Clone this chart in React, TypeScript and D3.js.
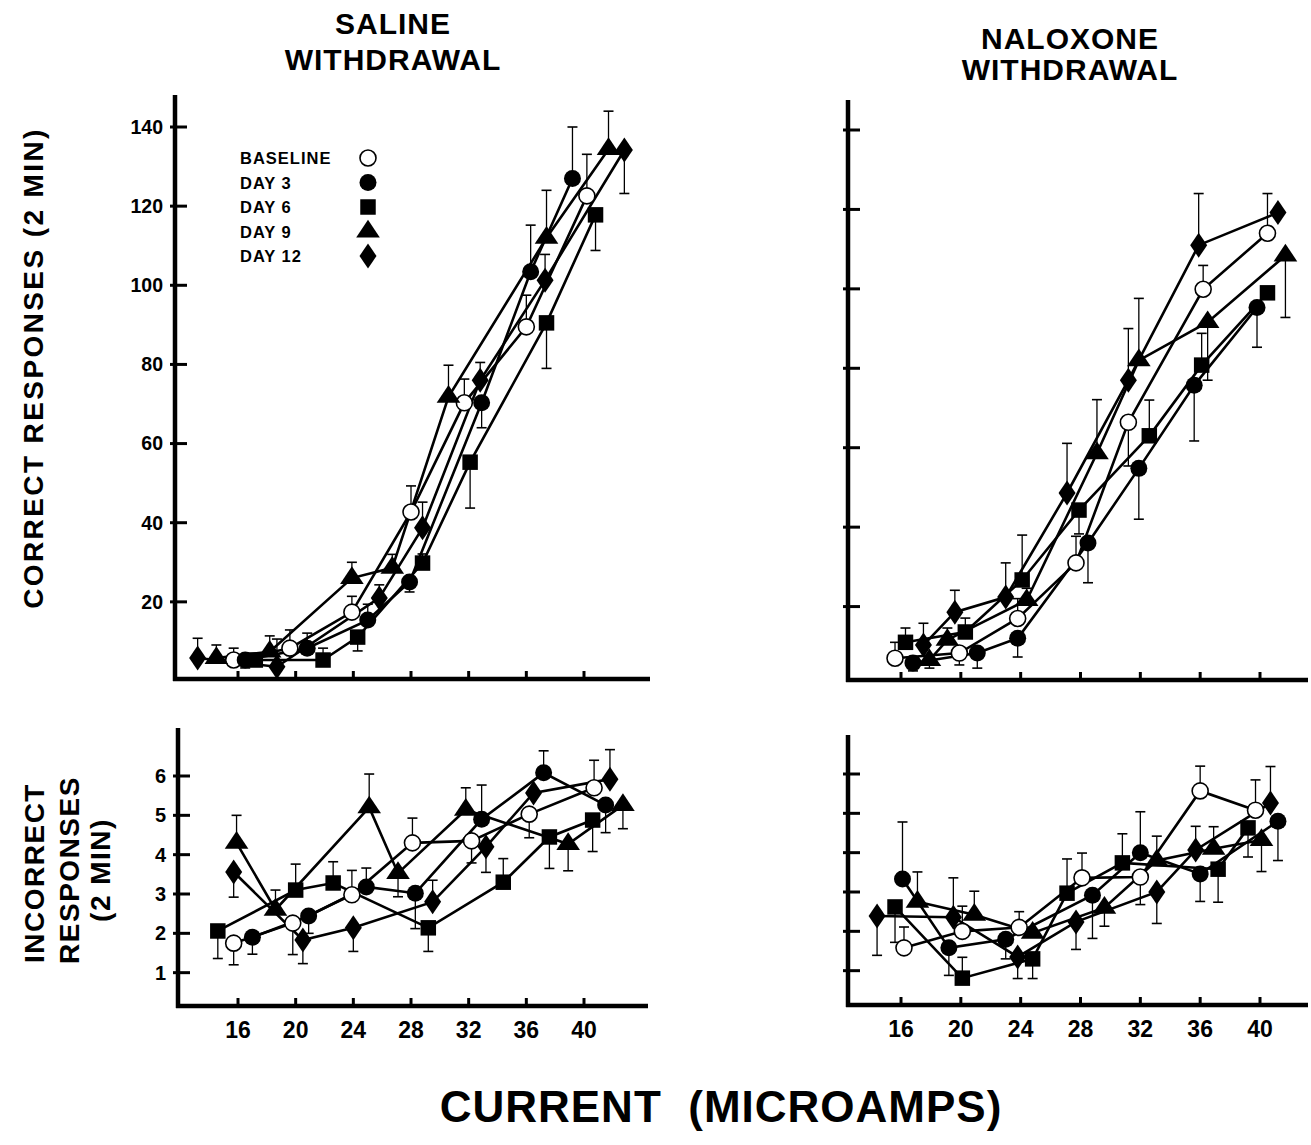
import React from "react";
import * as d3 from "d3";

// ---- Data: [current (µA), mean responses, error bar (signed: + up, - down)] ----
const SERIES_NAMES = ["BASELINE", "DAY 3", "DAY 6", "DAY 9", "DAY 12"];
const SERIES_SHAPES = ["openCircle", "circle", "square", "triangle", "diamond"];
const X_TICKS = [16, 20, 24, 28, 32, 36, 40];
const CORRECT_TICKS = [20, 40, 60, 80, 100, 120, 140];
const INCORRECT_TICKS = [1, 2, 3, 4, 5, 6];

const salineCorrect = [
  [[15.7, 5.3, 3], [19.6, 8.3, 4.6], [23.9, 17.4, 4], [28, 42.7, 6.6], [31.7, 70.3, 6], [36, 89.5, 8], [40.2, 122.6, 10.5]],
  [[16.5, 5.3, -2], [20.8, 8.3, 3.8], [25, 15.4, 4], [27.9, 25, -2.5], [32.9, 70.3, -6.3], [36.3, 103.4, 11.8], [39.2, 127, 13]],
  [[17.2, 5.3, 0], [21.9, 5.3, 3], [24.3, 11.1, -3.5], [28.8, 29.8, 2.3], [32.1, 55.3, -11.6], [37.4, 90.5, -11.5], [40.8, 117.8, -9]],
  [[14.5, 5.8, 3.3], [18.2, 7.4, 4], [23.9, 26, 4], [26.7, 28.6, 3.4], [30.6, 71.8, 8], [37.4, 112, 12], [41.7, 134.4, 9.6]],
  [[13.2, 5.8, 5], [18.7, 3.6, 7], [25.8, 21, 3.3], [28.8, 38.7, 6.5], [32.8, 76, 4.5], [37.3, 101.3, 6.5], [42.8, 134.2, -11]],
];

const naloxoneCorrect = [
  [[15.6, 7, 4], [19.9, 8.3, -3], [23.8, 17, 5], [27.7, 31, 6.7], [31.2, 66.4, -11], [36.2, 99.9, 6], [40.5, 114, 10]],
  [[16.8, 5.8, -2], [21.1, 8.3, -3.8], [23.8, 12, -4.7], [28.5, 36, -10], [31.9, 54.8, -12.8], [35.6, 75.7, -14], [39.8, 95.3, -10]],
  [[16.3, 11, 3.6], [20.3, 13.6, 3.5], [24.1, 26.7, 11.3], [27.9, 44.3, -6], [32.6, 63, 9], [36.1, 80.8, 8], [40.5, 99, 0]],
  [[17.9, 6.5, -2], [19.1, 11.6, 3], [24.4, 21.6, 3], [29.1, 58.6, 13.5], [31.9, 82, 15.6], [36.5, 91.6, -14.6], [41.7, 108.4, -15.6]],
  [[17.5, 10.3, 5.5], [19.6, 18.6, 5.5], [23, 22.4, 8.6], [27.1, 48.6, 12.5], [31.2, 77, 13], [35.9, 111, 13], [41.2, 119.2, 0]],
];

const salineIncorrect = [
  [[15.7, 1.75, -0.55], [19.8, 2.26, -0.8], [23.9, 2.98, 0.62], [28.1, 4.3, 0.63], [32.2, 4.35, -0.56], [36.2, 5.03, -0.6], [40.7, 5.7, 0.7]],
  [[17, 1.9, -0.43], [20.9, 2.44, -0.44], [24.9, 3.18, 0.48], [28.3, 3.02, -0.9], [32.9, 4.9, 0.87], [37.2, 6.08, 0.56], [41.5, 5.26, -0.7]],
  [[14.6, 2.06, -0.7], [20, 3.1, 0.66], [22.6, 3.28, 0.54], [29.2, 2.14, -0.6], [34.4, 3.3, 0.6], [37.6, 4.45, -0.8], [40.6, 4.88, -0.8]],
  [[15.9, 4.3, 0.7], [18.6, 2.6, 0.5], [25.1, 5.2, 0.85], [27.1, 3.53, -0.6], [31.8, 5.14, 0.56], [38.9, 4.27, -0.68], [42.7, 5.26, -0.6]],
  [[15.7, 3.56, -0.64], [20.5, 1.83, -0.6], [24, 2.14, -0.6], [29.5, 2.8, 0.55], [33.2, 4.2, -0.65], [36.5, 5.57, 0], [41.8, 5.92, 0.75]],
];

const naloxoneIncorrect = [
  [[16.2, 1.58, 0.53], [20.1, 2.0, 0.64], [23.9, 2.1, 0.4], [28.1, 3.36, 0.63], [32, 3.38, -0.7], [36, 5.57, 0.63], [39.7, 5.08, 0.77]],
  [[16.1, 3.33, 1.45], [19.2, 1.58, -0.7], [23, 1.8, -0.5], [28.8, 2.92, -1.1], [32, 4.0, 1.04], [36, 3.46, -0.7], [41.2, 4.8, -1.0]],
  [[15.6, 2.62, -0.9], [20.1, 0.81, 0.53], [24.8, 1.3, -0.5], [27.1, 2.97, 0.87], [30.8, 3.74, 0.74], [37.2, 3.58, -0.84], [39.2, 4.63, -0.74]],
  [[17.1, 2.75, 0.76], [20.9, 2.42, 0.6], [24.8, 1.96, 0], [29.6, 2.6, -0.47], [33.1, 3.8, 0.62], [36.9, 4.1, 0.56], [40.1, 4.32, -0.8]],
  [[14.4, 2.39, -1.0], [19.5, 2.36, 1.0], [23.8, 1.35, -0.55], [27.7, 2.24, -0.7], [33.1, 3.0, -0.8], [35.7, 4.07, 0.6], [40.7, 5.26, 0.93]],
];

const FONT = "'Liberation Sans', Arial, Helvetica, sans-serif";

type Panel = {
  data: number[][][];
  x: d3.ScaleLinear<number, number>;
  y: d3.ScaleLinear<number, number>;
  axisX: number;
  axisY: number;
  yTop: number;
  xRight: number;
  yTicks: number[];
  yLabels: boolean;
  xLabels: boolean;
};

const panels: Panel[] = [
  {
    data: salineCorrect,
    x: d3.scaleLinear().domain([16, 40]).range([238, 584]),
    y: d3.scaleLinear().domain([0, 140]).range([681, 127]),
    axisX: 175, axisY: 679, yTop: 95, xRight: 650,
    yTicks: CORRECT_TICKS, yLabels: true, xLabels: false,
  },
  {
    data: naloxoneCorrect,
    x: d3.scaleLinear().domain([16, 40]).range([901, 1260]),
    y: d3.scaleLinear().domain([0, 140]).range([686, 130]),
    axisX: 848, axisY: 680, yTop: 100, xRight: 1308,
    yTicks: CORRECT_TICKS, yLabels: false, xLabels: false,
  },
  {
    data: salineIncorrect,
    x: d3.scaleLinear().domain([16, 40]).range([238, 584]),
    y: d3.scaleLinear().domain([0, 6]).range([1012, 776]),
    axisX: 178, axisY: 1006, yTop: 728, xRight: 648,
    yTicks: INCORRECT_TICKS, yLabels: true, xLabels: true,
  },
  {
    data: naloxoneIncorrect,
    x: d3.scaleLinear().domain([16, 40]).range([901, 1260]),
    y: d3.scaleLinear().domain([0, 6]).range([1010, 774]),
    axisX: 848, axisY: 1005, yTop: 735, xRight: 1308,
    yTicks: INCORRECT_TICKS, yLabels: false, xLabels: true,
  },
];

const sq = d3.symbol().type(d3.symbolSquare).size(240)()!;
const tri = d3.symbol().type(d3.symbolTriangle).size(200)()!;
const diaPath = (() => {
  const p = d3.path();
  p.moveTo(0, -12.5);
  p.lineTo(8.5, 0);
  p.lineTo(0, 12.5);
  p.lineTo(-8.5, 0);
  p.closePath();
  return p.toString();
})();

function Marker({ shape, cx, cy }: { shape: string; cx: number; cy: number }) {
  if (shape === "openCircle")
    return <circle cx={cx} cy={cy} r={8} fill="#fff" stroke="#000" strokeWidth={1.6} />;
  if (shape === "circle") return <circle cx={cx} cy={cy} r={8.5} fill="#000" />;
  if (shape === "square") return <path d={sq} transform={`translate(${cx},${cy})`} fill="#000" />;
  if (shape === "triangle")
    return <path d={tri} transform={`translate(${cx},${cy}) scale(1.1,0.95)`} fill="#000" />;
  return <path d={diaPath} transform={`translate(${cx},${cy})`} fill="#000" />;
}

function PanelView({ p }: { p: Panel }) {
  const line = d3
    .line<number[]>()
    .x((d) => p.x(d[0]))
    .y((d) => p.y(d[1]));
  return (
    <g>
      {/* axes */}
      <line x1={p.axisX} y1={p.yTop} x2={p.axisX} y2={p.axisY + 2} stroke="#000" strokeWidth={4.5} />
      <line x1={p.axisX - 2} y1={p.axisY} x2={p.xRight} y2={p.axisY} stroke="#000" strokeWidth={4.5} />
      {p.yTicks.map((t) => (
        <g key={"yt" + t}>
          <line x1={p.axisX - 5} x2={p.axisX + 12} y1={p.y(t)} y2={p.y(t)} stroke="#000" strokeWidth={3} />
          {p.yLabels && (
            <text
              x={p.axisX - 12}
              y={p.y(t)}
              dy="0.35em"
              textAnchor="end"
              fontFamily={FONT}
              fontWeight="bold"
              fontSize={p.yTicks.length > 6 ? 19.5 : 20}
            >
              {t}
            </text>
          )}
        </g>
      ))}
      {X_TICKS.map((t) => (
        <g key={"xt" + t}>
          <line x1={p.x(t)} x2={p.x(t)} y1={p.axisY} y2={p.axisY - 8} stroke="#000" strokeWidth={3} />
          {p.xLabels && (
            <text
              x={p.x(t)}
              y={p.axisY + 32}
              textAnchor="middle"
              fontFamily={FONT}
              fontWeight="bold"
              fontSize={23}
            >
              {t}
            </text>
          )}
        </g>
      ))}
      {/* lines */}
      {p.data.map((s, i) => (
        <path key={"l" + i} d={line(s)!} fill="none" stroke="#000" strokeWidth={2.6} />
      ))}
      {/* error bars */}
      {p.data.map((s, i) =>
        s
          .filter((d) => d[2] !== 0)
          .map((d, j) => {
            const cx = p.x(d[0]);
            const y0 = p.y(d[1]);
            const y1 = p.y(d[1] + d[2]);
            return (
              <g key={"e" + i + "-" + j}>
                <line x1={cx} x2={cx} y1={y0} y2={y1} stroke="#000" strokeWidth={1.3} />
                <line x1={cx - 5} x2={cx + 5} y1={y1} y2={y1} stroke="#000" strokeWidth={1.6} />
              </g>
            );
          })
      )}
      {/* markers */}
      {p.data.map((s, i) =>
        s.map((d, j) => (
          <Marker key={"m" + i + "-" + j} shape={SERIES_SHAPES[i]} cx={p.x(d[0])} cy={p.y(d[1])} />
        ))
      )}
    </g>
  );
}

export default function App() {
  return (
    <svg
      width={1311}
      height={1145}
      style={{ position: "absolute", left: 0, top: 0, background: "#fff" }}
    >
      <rect width={1311} height={1145} fill="#fff" />
      {/* titles */}
      <g fontFamily={FONT} fontWeight="bold" fontSize={30} letterSpacing={1} textAnchor="middle">
        <text x={393} y={34}>SALINE</text>
        <text x={393} y={70}>WITHDRAWAL</text>
        <text x={1070} y={49}>NALOXONE</text>
        <text x={1070} y={80}>WITHDRAWAL</text>
      </g>
      {/* y labels */}
      <text
        transform="translate(43,368) rotate(-90)"
        textAnchor="middle"
        fontFamily={FONT}
        fontWeight="bold"
        fontSize={28}
        letterSpacing={2.4}
      >
        CORRECT RESPONSES (2 MIN)
      </text>
      <g fontFamily={FONT} fontWeight="bold" fontSize={28} letterSpacing={1.5} textAnchor="middle">
        <text transform="translate(44,873) rotate(-90)">INCORRECT</text>
        <text transform="translate(79,870) rotate(-90)">RESPONSES</text>
        <text transform="translate(110,870) rotate(-90)">(2 MIN)</text>
      </g>
      {/* x label */}
      <text
        x={721}
        y={1122}
        textAnchor="middle"
        fontFamily={FONT}
        fontWeight="bold"
        fontSize={44}
        letterSpacing={1}
        style={{ whiteSpace: "pre" }}
      >
        {"CURRENT  (MICROAMPS)"}
      </text>

      {panels.map((p, i) => (
        <PanelView key={i} p={p} />
      ))}

      {/* legend */}
      <g fontFamily={FONT} fontWeight="bold" fontSize={16.5} letterSpacing={1}>
        {SERIES_NAMES.map((n, i) => (
          <g key={n}>
            <text x={240} y={164 + i * 24.5}>{n}</text>
            <Marker shape={SERIES_SHAPES[i]} cx={368} cy={158 + i * 24.5} />
          </g>
        ))}
      </g>
    </svg>
  );
}
